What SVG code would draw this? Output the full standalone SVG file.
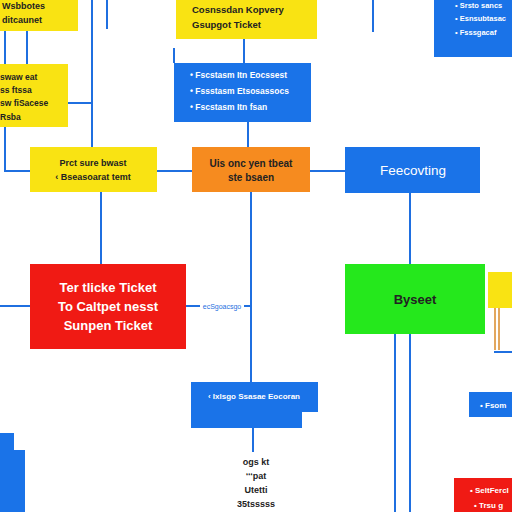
<svg xmlns="http://www.w3.org/2000/svg" width="512" height="512" viewBox="0 0 512 512">
<style>
.y{fill:#f9e313}.b{fill:#1a73e8}.o{fill:#f68b1f}.r{fill:#f01a14}.g{fill:#25e81c}
.c{stroke:#1f6fe0;stroke-width:2;fill:none}
.co{stroke:#d98a2a;stroke-width:1.5;fill:none}
.dk{font-family:"Liberation Sans",Arial,sans-serif;font-weight:bold;fill:#222}
.wt{font-family:"Liberation Sans",Arial,sans-serif;font-weight:bold;fill:#fff}
</style>
<rect width="512" height="512" fill="#fff"/>
<g id="connectors">
<path class="c" d="M5 31V64M27 31V64M92 0V147M68 103H92M107 0V29M5 127V171H30"/>
<path class="c" d="M174 48V63M244 39V63M248 122V147M373 0V32"/>
<path class="c" d="M157 171H192M310 171H345M101 192V264M251 192V382M410 193V264"/>
<path class="c" d="M395 334V512M410 334V512M0 306H31M186 306H200M244 306H251M253 428V452"/>
<path class="co" d="M495 307V350M499 307V350"/>
<path class="c" d="M494 352H512"/>
<text x="222" y="309" font-family="Liberation Sans,Arial,sans-serif" font-size="7" fill="#1f6fe0" text-anchor="middle">ecSgoacsgo</text>
</g>
<g id="n1"><rect class="y" x="0" y="0" width="78" height="31"/>
<text class="dk" font-size="9" x="2" y="9">Wsbbotes</text>
<text class="dk" font-size="9" x="2" y="23">ditcaunet</text></g>
<g id="n2"><rect class="y" x="0" y="64" width="68" height="63"/>
<text class="dk" font-size="8.5" x="0" y="80">swaw eat</text>
<text class="dk" font-size="8.5" x="0" y="93">ss ftssa</text>
<text class="dk" font-size="8.5" x="0" y="106">sw fiSacese</text>
<text class="dk" font-size="8.5" x="0" y="120">Rsba</text></g>
<g id="n3"><rect class="y" x="176" y="0" width="141" height="39"/>
<text class="dk" font-size="9.5" x="192" y="13">Cosnssdan Kopvery</text>
<text class="dk" font-size="9.5" x="192" y="28">Gsupgot Ticket</text></g>
<g id="n4"><rect class="b" x="174" y="63" width="137" height="59"/>
<text class="wt" font-size="8.5" x="190" y="78">• Fscstasm Itn Eocssest</text>
<text class="wt" font-size="8.5" x="190" y="94">• Fssstasm Etsosassocs</text>
<text class="wt" font-size="8.5" x="190" y="110">• Fscstasm Itn fsan</text></g>
<g id="n5"><rect class="b" x="434" y="0" width="78" height="57"/>
<text class="wt" font-size="7.5" x="455" y="8">• Srsto sancs</text>
<text class="wt" font-size="7.5" x="455" y="21">• Esnsubtasac</text>
<text class="wt" font-size="7.5" x="455" y="35">• Fsssgacaf</text></g>
<g id="n6"><rect class="y" x="30" y="147" width="127" height="45"/>
<text class="dk" font-size="9" x="93" y="166" text-anchor="middle">Prct sure bwast</text>
<text class="dk" font-size="9" x="93" y="180" text-anchor="middle">‹ Bseasoarat temt</text></g>
<g id="n7"><rect class="o" x="192" y="147" width="118" height="45"/>
<text class="dk" font-size="10" x="251" y="167" text-anchor="middle">Uis onc yen tbeat</text>
<text class="dk" font-size="10" x="251" y="181" text-anchor="middle">ste bsaen</text></g>
<g id="n8"><rect class="b" x="345" y="147" width="135" height="46"/>
<text class="wt" font-size="13.5" x="413" y="175" text-anchor="middle" style="font-weight:normal">Feecovting</text></g>
<g id="n9"><rect class="r" x="30" y="264" width="156" height="85"/>
<text class="wt" font-size="13" x="108" y="292" text-anchor="middle">Ter tlicke Ticket</text>
<text class="wt" font-size="13" x="108" y="311" text-anchor="middle">To Caltpet nesst</text>
<text class="wt" font-size="13" x="108" y="330" text-anchor="middle">Sunpen Ticket</text></g>
<g id="n10"><rect class="g" x="345" y="264" width="140" height="70"/>
<text class="dk" font-size="13" x="415" y="304" text-anchor="middle" fill="#111">Byseet</text></g>
<g id="n11"><rect class="y" x="488" y="272" width="24" height="36"/></g>
<g id="n12"><path class="b" d="M191 382H318V412H302V428H191Z"/>
<text class="wt" font-size="8" x="254" y="399" text-anchor="middle">‹ Ixlsgo Ssasae Eocoran</text></g>
<g id="n13"><path class="b" d="M0 433H14V450H25V512H0Z"/></g>
<g id="n14"><rect class="b" x="469" y="392" width="43" height="25"/>
<text class="wt" font-size="8" x="480" y="408">• Fsom</text></g>
<g id="n15"><rect class="r" x="454" y="478" width="58" height="34"/>
<text class="wt" font-size="8" x="470" y="493">• SeltFercl</text>
<text class="wt" font-size="8" x="474" y="508">• Trsu g</text></g>
<g id="n16">
<text class="dk" font-size="9" x="256" y="465" text-anchor="middle">ogs kt</text>
<text class="dk" font-size="9" x="256" y="479" text-anchor="middle">‘‘‘pat</text>
<text class="dk" font-size="9" x="256" y="493" text-anchor="middle">Utetti</text>
<text class="dk" font-size="9" x="256" y="507" text-anchor="middle">35tsssss</text></g>
</svg>
